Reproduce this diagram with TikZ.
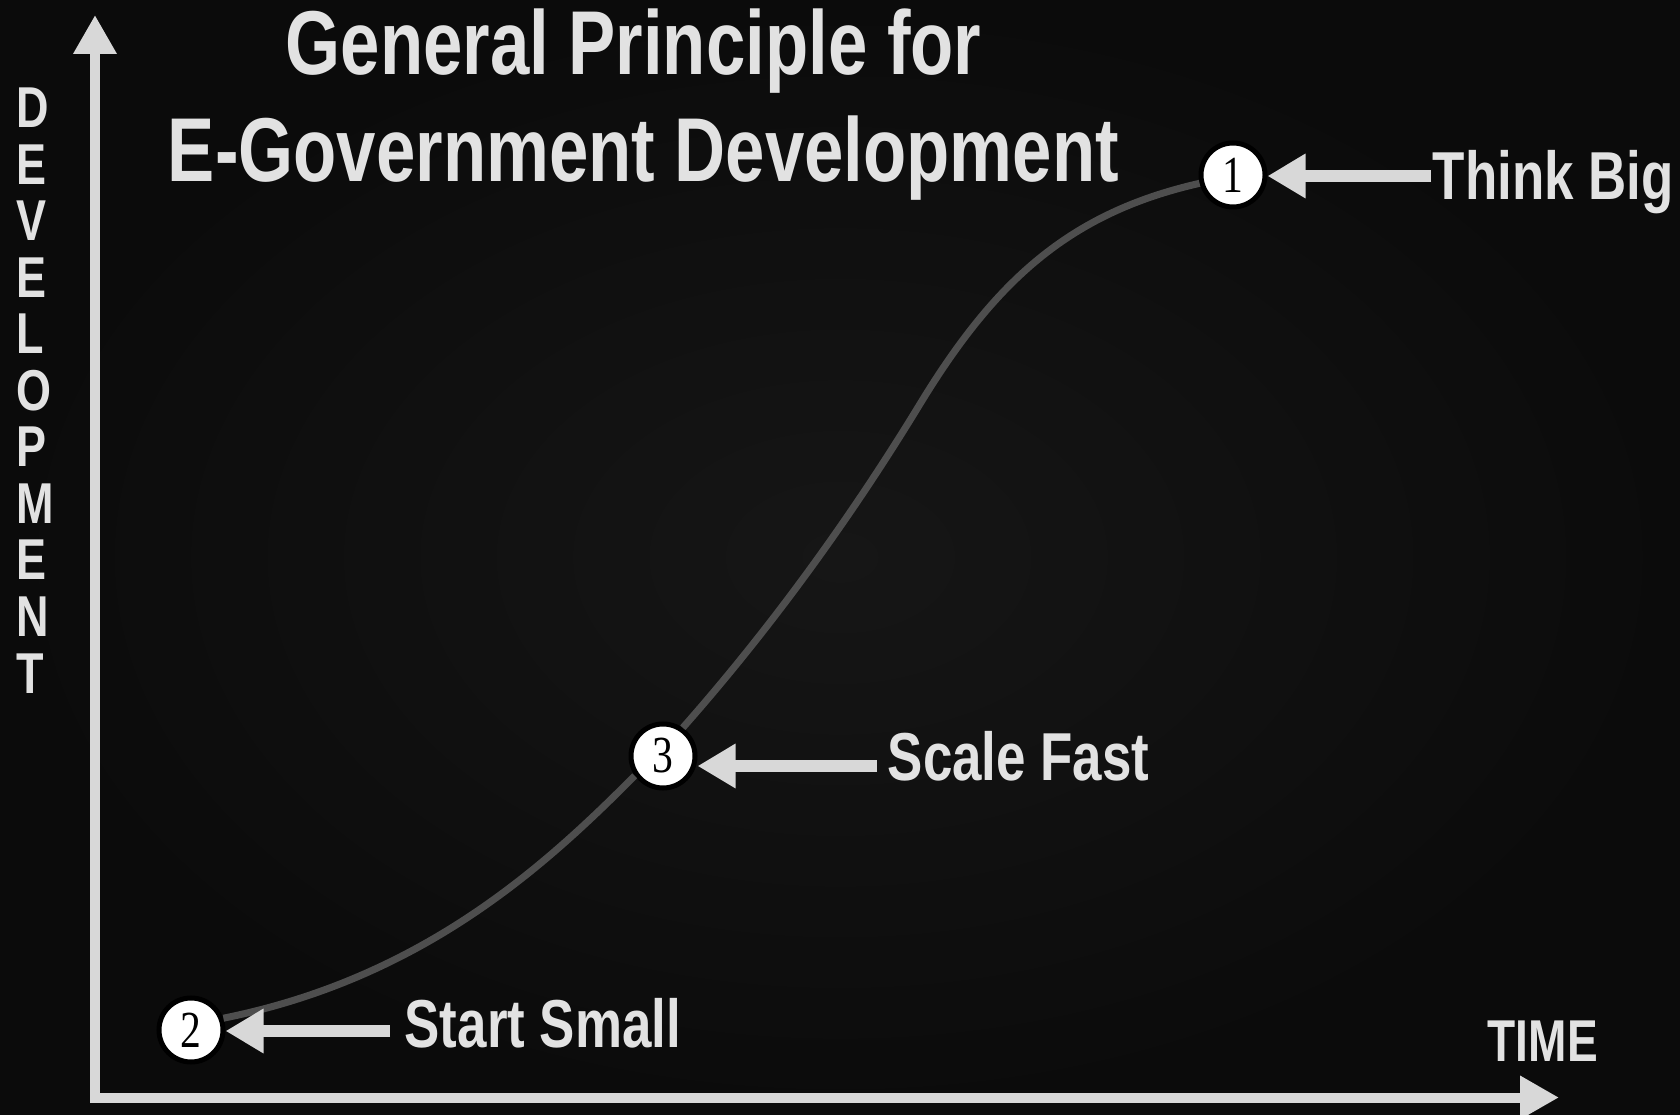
\documentclass[tikz,border=0pt]{standalone}
\usepackage{fontspec}
\usepackage{tikz}
\usepackage{xcolor}
\usetikzlibrary{arrows.meta}

\newfontfamily\narrowsans[FakeStretch=0.78]{Liberation Sans}
\newfontfamily\digitserif[FakeStretch=0.8]{Liberation Serif}

\definecolor{bgin}{RGB}{22,22,22}
\definecolor{bgout}{RGB}{11,11,11}
\definecolor{ink}{RGB}{226,226,226}
\definecolor{pale}{RGB}{216,216,216}
\definecolor{sgray}{RGB}{78,78,78}

\begin{document}
\begin{tikzpicture}[
  headtip/.style={-{Triangle[length=0.38cm,width=0.42cm]}},
  title/.style={inner sep=0pt, text=ink, anchor=base, font=\narrowsans\bfseries\fontsize{25.8}{30}\selectfont},
  label/.style={inner sep=0pt, text=ink, anchor=base west, font=\narrowsans\bfseries\fontsize{19.3}{23}\selectfont},
  axislabel/.style={inner sep=0pt, text=ink, anchor=base west, font=\narrowsans\bfseries\fontsize{16.4}{20}\selectfont},
  dot/.style={circle, draw=black, fill=white, line width=0.05cm, minimum size=0.64cm, inner sep=0pt, font=\digitserif\fontsize{14.8}{16}\selectfont},
  pointer/.style={pale, line width=0.115cm, headtip},
]
\useasboundingbox (0,0) rectangle (16.8,11.14);
\shade[inner color=bgin, outer color=bgout] (0,0) rectangle (16.8,11.14);

% axes
\coordinate (o) at (0.95,0.165);
\coordinate (ytip) at (0.95,10.99);
\coordinate (xtip) at (15.59,0.165);
\draw[pale, line width=0.1cm, {Triangle[length=0.39cm,width=0.41cm]}-{Triangle[length=0.39cm,width=0.41cm]}]
  (ytip) -- (o) -- (xtip);

\foreach \ch [count=\i] in {D,E,V,E,L,O,P,M,E,N,T}
  \node[axislabel] (dev\i) at (0.16,{9.86-0.565*(\i-1)}) {\ch};
\node[axislabel, font=\narrowsans\bfseries\fontsize{16.8}{20}\selectfont] (time) at (14.87,0.53) {TIME};

\node[title] (title1) at (6.335,10.39) {General Principle for};
\node[title] (title2) at (6.435,9.32) {E-Government Development};

% points on the curve
\node[dot] (c1) at (12.33,9.39) {1};
\node[dot] (c2) at (1.91,0.84) {2};
\node[dot] (c3) at (6.63,3.58) {3};

\draw[sgray, line width=0.07cm] (c2.20) .. controls (4.23,1.36) and (5.45,2.48) .. (c3.215);
\draw[sgray, line width=0.07cm] (c3.55) .. controls (7.7,4.85) and (8.5,5.95) .. (9.2,7.1)
  .. controls (9.95,8.33) and (10.69,9.01) .. (c1.194);

\node[label] (big) at (14.32,9.14) {Think Big};
\node[label] (fast) at (8.87,3.33) {Scale Fast};
\node[label] (small) at (4.04,0.67) {Start Small};

\coordinate (from1) at (14.31,9.38);
\coordinate (from3) at (8.77,3.48);
\coordinate (from2) at (3.90,0.83);
\draw[pointer] (from1) -- (from1 -| c1.east);
\draw[pointer] (from3) -- (from3 -| c3.east);
\draw[pointer] (from2) -- (from2 -| c2.east);
\end{tikzpicture}
\end{document}
